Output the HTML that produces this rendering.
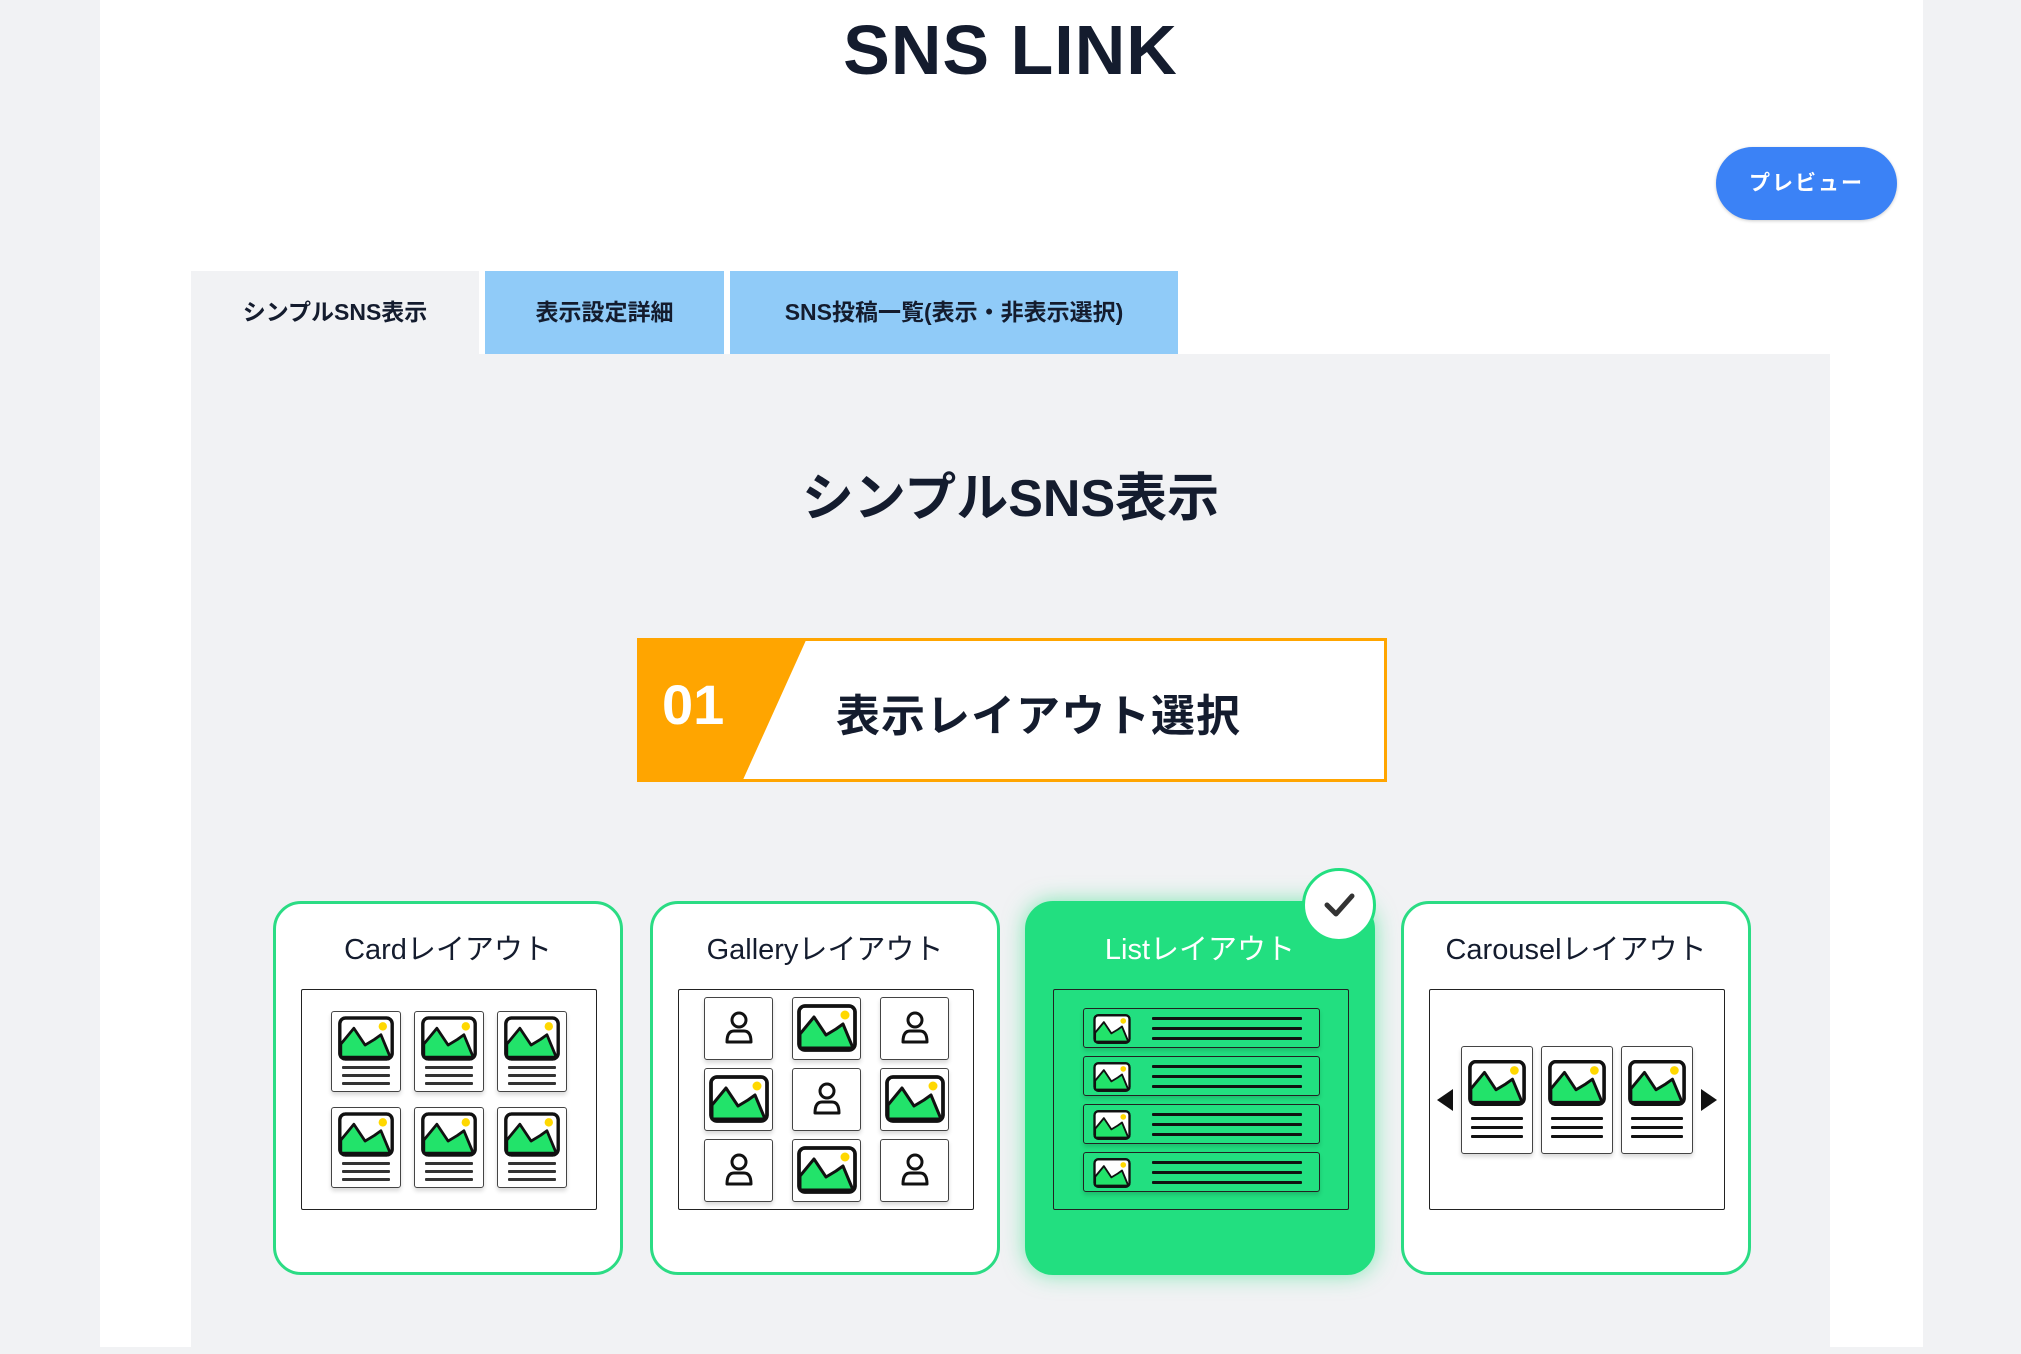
<!DOCTYPE html>
<html><head><meta charset="utf-8"><style>
*{box-sizing:border-box;margin:0;padding:0}
body{width:2021px;height:1347px;background:#f1f2f4;position:relative;overflow:hidden;font-family:"Liberation Sans","Noto Sans CJK JP",sans-serif;color:#141c2e}
.abs{position:absolute}
.panel{left:100px;top:0;width:1823px;height:1347px;background:#fff}
.title{left:0;width:2021px;top:10px;text-align:center;font-size:70px;font-weight:bold;letter-spacing:1px}
.btn{left:1716px;top:147px;width:181px;height:73px;background:#3b82f6;border-radius:37px;color:#fff;font-weight:bold;font-size:21px;text-align:center;line-height:73px;letter-spacing:2px;box-shadow:0 1px 3px rgba(0,0,0,.2)}
.tab{top:271px;height:83px;font-size:23px;font-weight:bold;text-align:center;line-height:83px}
.content{left:191px;top:354px;width:1639px;height:1000px;background:#f1f2f4}
.h2{left:0;width:2021px;top:456px;text-align:center;font-size:52px;font-weight:bold}
.card{width:350px;height:374px;top:901px;border:3px solid #2bdc84;border-radius:28px;background:#fff}
.card .t{position:absolute;left:0;right:0;top:22px;text-align:center;font-size:29px}
.box{position:absolute;left:25px;top:85px;width:296px;height:221px;border:1.5px solid #222;border-radius:2px;background:#fff;display:flex;align-items:center;justify-content:center}
.th{border:1.5px solid #444;border-radius:3px;background:#fff;box-shadow:0 3px 4px rgba(0,0,0,.15);position:relative}
.ln{position:absolute;height:3px;background:#333;border-radius:1px}
</style></head><body>
<svg width="0" height="0" style="position:absolute">
<defs>
<symbol id="img" viewBox="0 0 60 48"><rect x="2" y="2" width="56" height="44" rx="6" fill="#fff" stroke="#111" stroke-width="3.5"/><path d="M3 44 L3 30 L17 13 L29 31 L39 25 L46 20 L56 44 Z" fill="#22e36a" stroke="#111" stroke-width="3" stroke-linejoin="round"/><rect x="2" y="2" width="56" height="44" rx="6" fill="none" stroke="#111" stroke-width="3.5"/><circle cx="48" cy="11" r="4.5" fill="#ffd800"/></symbol>
<symbol id="usr" viewBox="0 0 40 40"><circle cx="20" cy="12" r="7" fill="none" stroke="#111" stroke-width="3"/><path d="M8 34 Q8 23 15 23 L25 23 Q32 23 32 34 Z" fill="none" stroke="#111" stroke-width="3" stroke-linejoin="round"/></symbol>
</defs></svg>
<div class="abs panel"></div>
<div class="abs title">SNS LINK</div>
<div class="abs btn">プレビュー</div>
<div class="abs tab" style="left:191px;width:288px;background:#f1f2f4">シンプルSNS表示</div>
<div class="abs tab" style="left:485px;width:239px;background:#90cbf8">表示設定詳細</div>
<div class="abs tab" style="left:730px;width:448px;background:#90cbf8">SNS投稿一覧(表示・非表示選択)</div>
<div class="abs content"></div>
<div class="abs h2">シンプルSNS表示</div>
<div class="abs" style="left:637px;top:638px;width:750px;height:144px;border:3px solid #ffa500;background:#fff"></div>
<svg class="abs" style="left:637px;top:638px" width="172" height="144"><polygon points="0,0 170,0 105,144 0,144" fill="#ffa500"/></svg>
<div class="abs" style="left:662px;top:672px;font-size:56px;font-weight:bold;color:#fff">01</div>
<div class="abs" style="left:836px;top:680px;font-size:44px;font-weight:bold;letter-spacing:1px">表示レイアウト選択</div>

<div class="abs card" style="left:273px"><div class="t">Cardレイアウト</div>
<div class="box"><div style="display:grid;grid-template-columns:repeat(3,70px);gap:15px 13px">
<div class="th" style="height:81px"><svg style="position:absolute;left:6px;top:4px" width="56" height="45"><use href="#img"/></svg><div class="ln" style="left:10px;width:48px;top:54px"></div><div class="ln" style="left:10px;width:48px;top:62px"></div><div class="ln" style="left:10px;width:48px;top:70px"></div></div>
<div class="th" style="height:81px"><svg style="position:absolute;left:6px;top:4px" width="56" height="45"><use href="#img"/></svg><div class="ln" style="left:10px;width:48px;top:54px"></div><div class="ln" style="left:10px;width:48px;top:62px"></div><div class="ln" style="left:10px;width:48px;top:70px"></div></div>
<div class="th" style="height:81px"><svg style="position:absolute;left:6px;top:4px" width="56" height="45"><use href="#img"/></svg><div class="ln" style="left:10px;width:48px;top:54px"></div><div class="ln" style="left:10px;width:48px;top:62px"></div><div class="ln" style="left:10px;width:48px;top:70px"></div></div>
<div class="th" style="height:81px"><svg style="position:absolute;left:6px;top:4px" width="56" height="45"><use href="#img"/></svg><div class="ln" style="left:10px;width:48px;top:54px"></div><div class="ln" style="left:10px;width:48px;top:62px"></div><div class="ln" style="left:10px;width:48px;top:70px"></div></div>
<div class="th" style="height:81px"><svg style="position:absolute;left:6px;top:4px" width="56" height="45"><use href="#img"/></svg><div class="ln" style="left:10px;width:48px;top:54px"></div><div class="ln" style="left:10px;width:48px;top:62px"></div><div class="ln" style="left:10px;width:48px;top:70px"></div></div>
<div class="th" style="height:81px"><svg style="position:absolute;left:6px;top:4px" width="56" height="45"><use href="#img"/></svg><div class="ln" style="left:10px;width:48px;top:54px"></div><div class="ln" style="left:10px;width:48px;top:62px"></div><div class="ln" style="left:10px;width:48px;top:70px"></div></div>
</div></div></div>

<div class="abs card" style="left:650px"><div class="t">Galleryレイアウト</div>
<div class="box"><div style="display:grid;grid-template-columns:repeat(3,69px);gap:8px 19px">
<div class="th" style="height:63px"><svg style="position:absolute;left:14px;top:6px" width="40" height="48"><use href="#usr"/></svg></div>
<div class="th" style="height:63px"><svg style="position:absolute;left:4px;top:5px" width="60" height="50"><use href="#img"/></svg></div>
<div class="th" style="height:63px"><svg style="position:absolute;left:14px;top:6px" width="40" height="48"><use href="#usr"/></svg></div>
<div class="th" style="height:63px"><svg style="position:absolute;left:4px;top:5px" width="60" height="50"><use href="#img"/></svg></div>
<div class="th" style="height:63px"><svg style="position:absolute;left:14px;top:6px" width="40" height="48"><use href="#usr"/></svg></div>
<div class="th" style="height:63px"><svg style="position:absolute;left:4px;top:5px" width="60" height="50"><use href="#img"/></svg></div>
<div class="th" style="height:63px"><svg style="position:absolute;left:14px;top:6px" width="40" height="48"><use href="#usr"/></svg></div>
<div class="th" style="height:63px"><svg style="position:absolute;left:4px;top:5px" width="60" height="50"><use href="#img"/></svg></div>
<div class="th" style="height:63px"><svg style="position:absolute;left:14px;top:6px" width="40" height="48"><use href="#usr"/></svg></div>
</div></div></div>

<div class="abs card" style="left:1025px;background:#22df80;border-color:#22df80;box-shadow:0 0 22px rgba(34,223,128,.55)"><div class="t" style="color:#fff">Listレイアウト</div>
<div class="box" style="background:#22df80;flex-direction:column;gap:8px">
<div class="th" style="width:237px;height:40px;background:#22df80;border-color:#222"><svg style="position:absolute;left:8px;top:5px" width="40" height="30"><use href="#img"/></svg><div class="ln" style="left:68px;width:150px;top:8px;background:#111"></div><div class="ln" style="left:68px;width:150px;top:18px;background:#111"></div><div class="ln" style="left:68px;width:150px;top:28px;background:#111"></div></div>
<div class="th" style="width:237px;height:40px;background:#22df80;border-color:#222"><svg style="position:absolute;left:8px;top:5px" width="40" height="30"><use href="#img"/></svg><div class="ln" style="left:68px;width:150px;top:8px;background:#111"></div><div class="ln" style="left:68px;width:150px;top:18px;background:#111"></div><div class="ln" style="left:68px;width:150px;top:28px;background:#111"></div></div>
<div class="th" style="width:237px;height:40px;background:#22df80;border-color:#222"><svg style="position:absolute;left:8px;top:5px" width="40" height="30"><use href="#img"/></svg><div class="ln" style="left:68px;width:150px;top:8px;background:#111"></div><div class="ln" style="left:68px;width:150px;top:18px;background:#111"></div><div class="ln" style="left:68px;width:150px;top:28px;background:#111"></div></div>
<div class="th" style="width:237px;height:40px;background:#22df80;border-color:#222"><svg style="position:absolute;left:8px;top:5px" width="40" height="30"><use href="#img"/></svg><div class="ln" style="left:68px;width:150px;top:8px;background:#111"></div><div class="ln" style="left:68px;width:150px;top:18px;background:#111"></div><div class="ln" style="left:68px;width:150px;top:28px;background:#111"></div></div>
</div></div>
<div class="abs" style="left:1302px;top:868px;width:74px;height:74px;border-radius:50%;background:#fff;border:3px solid #22df80"></div>
<svg class="abs" style="left:1302px;top:868px" width="74" height="74"><path d="M25 37 L34 46 L50 28" fill="none" stroke="#333" stroke-width="5" stroke-linecap="round" stroke-linejoin="round"/></svg>

<div class="abs card" style="left:1401px"><div class="t">Carouselレイアウト</div>
<div class="box" style="gap:8px">
<svg width="16" height="22"><polygon points="16,0 16,22 0,11" fill="#111"/></svg>
<div class="th" style="width:72px;height:108px"><svg style="position:absolute;left:6px;top:12px" width="58" height="48"><use href="#img"/></svg><div class="ln" style="left:9px;width:52px;top:70px;background:#111"></div><div class="ln" style="left:9px;width:52px;top:79px;background:#111"></div><div class="ln" style="left:9px;width:52px;top:88px;background:#111"></div></div>
<div class="th" style="width:72px;height:108px"><svg style="position:absolute;left:6px;top:12px" width="58" height="48"><use href="#img"/></svg><div class="ln" style="left:9px;width:52px;top:70px;background:#111"></div><div class="ln" style="left:9px;width:52px;top:79px;background:#111"></div><div class="ln" style="left:9px;width:52px;top:88px;background:#111"></div></div>
<div class="th" style="width:72px;height:108px"><svg style="position:absolute;left:6px;top:12px" width="58" height="48"><use href="#img"/></svg><div class="ln" style="left:9px;width:52px;top:70px;background:#111"></div><div class="ln" style="left:9px;width:52px;top:79px;background:#111"></div><div class="ln" style="left:9px;width:52px;top:88px;background:#111"></div></div>
<svg width="16" height="22"><polygon points="0,0 0,22 16,11" fill="#111"/></svg>
</div></div>
</body></html>
